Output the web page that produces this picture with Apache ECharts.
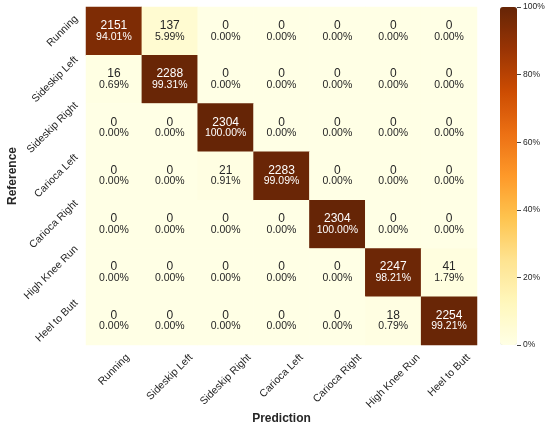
<!DOCTYPE html>
<html><head><meta charset="utf-8">
<script src="https://cdn.jsdelivr.net/npm/echarts@6/dist/echarts.min.js"></script>
<style>html,body{margin:0;padding:0;background:#fff}#c{width:550px;height:429px}</style>
</head><body><div id="c"></div>
<script>
const classes = ['Running','Sideskip Left','Sideskip Right','Carioca Left','Carioca Right','High Knee Run','Heel to Butt'];
const counts = [
  [2151, 137, 0, 0, 0, 0, 0],
  [16, 2288, 0, 0, 0, 0, 0],
  [0, 0, 2304, 0, 0, 0, 0],
  [0, 0, 21, 2283, 0, 0, 0],
  [0, 0, 0, 0, 2304, 0, 0],
  [0, 0, 0, 0, 0, 2247, 41],
  [0, 0, 0, 0, 0, 18, 2254]
];
const percents = [
  [94.01, 5.99, 0, 0, 0, 0, 0],
  [0.69, 99.31, 0, 0, 0, 0, 0],
  [0, 0, 100, 0, 0, 0, 0],
  [0, 0, 0.91, 99.09, 0, 0, 0],
  [0, 0, 0, 0, 100, 0, 0],
  [0, 0, 0, 0, 0, 98.21, 1.79],
  [0, 0, 0, 0, 0, 0.79, 99.21]
];
const colorbarTicks = [0, 20, 40, 60, 80, 100];
const ylorbr = ['#ffffe5','#fff7bc','#fee391','#fec44f','#fe9929','#ec7014','#cc4c02','#993404','#662506'];

const family = '"Liberation Sans", Arial, Helvetica, sans-serif';
const tickFont = 10.5;
const lineH = 11;
const mctx = document.createElement('canvas').getContext('2d');
function textW(s){ mctx.font = tickFont + 'px ' + family; return mctx.measureText(s).width; }

const tickBase = { align: 'center', fontSize: tickFont, lineHeight: lineH, color: '#262626', fontFamily: family };
// emulate matplotlib's bbox-based alignment of rotated tick labels
const xCats = classes.map(c => {
  const L = textW(c);
  const dy = 8 + 0.354 * (L + 8);
  const pr = 1.414 * dy;
  const pt = Math.max(0, 0.707 * dy - lineH / 2);
  return { value: c, textStyle: Object.assign({}, tickBase, { verticalAlign: 'top', padding: [pt, pr, 0, 0] }) };
});
const yCats = classes.map(c => {
  const L = textW(c);
  const dx = 9.7 + 0.354 * L;
  const pr = 1.414 * dx;
  const pb = Math.max(0, 0.707 * dx - lineH / 2);
  return { value: c, textStyle: Object.assign({}, tickBase, { verticalAlign: 'bottom', padding: [0, pr, pb, 0] }) };
});

const data = [];
for (let r = 0; r < classes.length; r++) {
  for (let c = 0; c < classes.length; c++) {
    const pct = percents[r][c];
    data.push({
      value: [c, r, pct, counts[r][c]],
      label: { color: pct > 50 ? '#ffffff' : '#262626' }
    });
  }
}

const chart = echarts.init(document.getElementById('c'), null, {renderer: 'canvas'});
chart.setOption({
  backgroundColor: '#ffffff',
  animation: false,
  textStyle: { fontFamily: family },
  grid: [
    { left: 86, top: 7, width: 391, height: 338, containLabel: false, outerBoundsMode: 'none' },
    { left: 500, top: 7, width: 17, height: 338, containLabel: false, outerBoundsMode: 'none', show: false }
  ],
  xAxis: [
    {
      type: 'category', data: xCats, gridIndex: 0, position: 'bottom',
      axisLine: { show: false }, axisTick: { show: false }, splitLine: { show: false },
      axisLabel: { interval: 0, rotate: 45, margin: 0,
                   fontSize: tickFont, color: '#262626', fontFamily: family, hideOverlap: false },
      name: 'Prediction', nameLocation: 'middle', nameGap: 68, nameMoveOverlap: false,
      nameTextStyle: { fontSize: 12, fontWeight: 'bold', color: '#262626', fontFamily: family }
    },
    { type: 'value', gridIndex: 1, show: false, min: 0, max: 1, axisLine: { onZero: false } }
  ],
  yAxis: [
    {
      type: 'category', data: yCats, gridIndex: 0, inverse: true, position: 'left',
      axisLine: { show: false }, axisTick: { show: false }, splitLine: { show: false },
      axisLabel: { interval: 0, rotate: 45, margin: 0,
                   fontSize: tickFont, color: '#262626', fontFamily: family, hideOverlap: false },
      name: 'Reference', nameLocation: 'middle', nameGap: 67, nameRotate: 90, nameMoveOverlap: false,
      nameTextStyle: { fontSize: 12, fontWeight: 'bold', color: '#262626', fontFamily: family }
    },
    {
      type: 'value', gridIndex: 1, min: colorbarTicks[0], max: colorbarTicks[colorbarTicks.length - 1],
      interval: colorbarTicks[1] - colorbarTicks[0], position: 'right', z: 10,
      axisLine: { show: true, onZero: false, lineStyle: { color: 'rgba(0,0,0,0)' } },
      axisTick: { show: true, inside: false, length: 4, lineStyle: { color: '#444', width: 1 } },
      splitLine: { show: false },
      axisLabel: { formatter: '{value}%', margin: 6, fontSize: 8.5, color: '#262626', fontFamily: family }
    }
  ],
  visualMap: {
    type: 'continuous', min: 0, max: 100, dimension: 2, seriesIndex: 0,
    calculable: false, hoverLink: false, left: 500, top: 7, padding: 0,
    itemWidth: 17, itemHeight: 338, orient: 'vertical', z: 1,
    inRange: { color: ylorbr }
  },
  series: [{
    type: 'heatmap', xAxisIndex: 0, yAxisIndex: 0, data: data,
    itemStyle: { borderWidth: 0 },
    emphasis: { disabled: true },
    label: {
      show: true, fontFamily: family,
      formatter: p => '{a|' + p.value[3] + '}\n{b|' + p.value[2].toFixed(2) + '%}',
      rich: {
        a: { fontSize: 12, lineHeight: 11, fontFamily: family },
        b: { fontSize: 10.5, lineHeight: 11, fontFamily: family }
      }
    }
  }]
});
</script></body></html>
